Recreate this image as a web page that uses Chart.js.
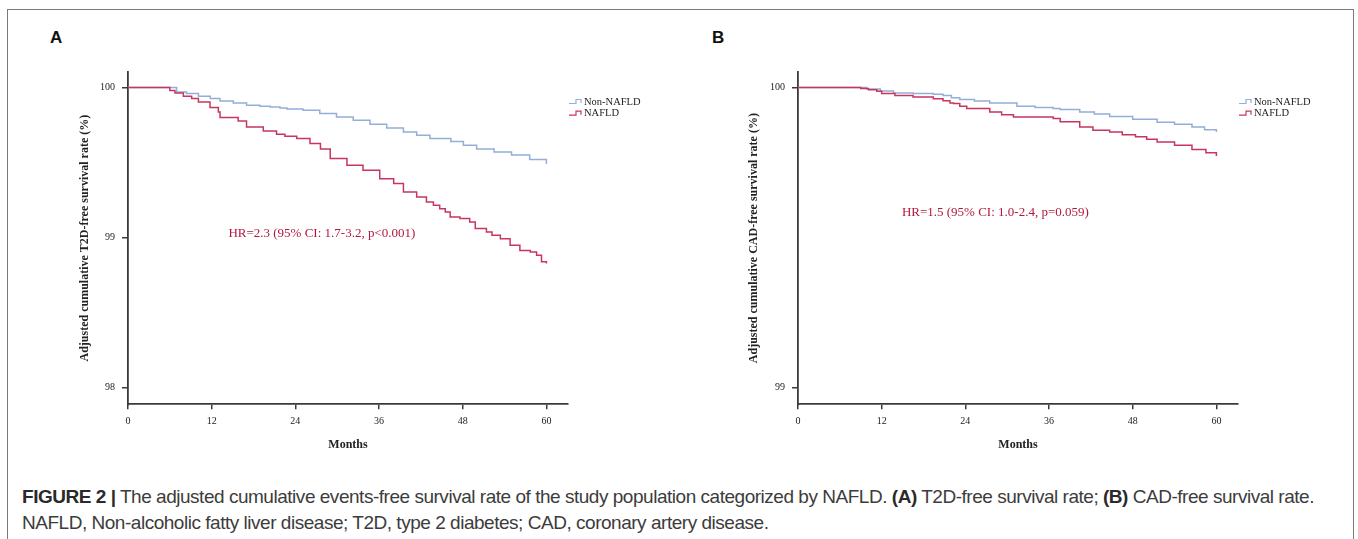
<!DOCTYPE html>
<html><head><meta charset="utf-8">
<script src="https://cdn.jsdelivr.net/npm/chart.js@4.4.0/dist/chart.umd.min.js"></script>
<style>
html,body{margin:0;padding:0;background:#fff;width:1358px;height:539px;overflow:hidden;}
#frame{position:absolute;left:7px;top:9px;width:1347px;height:700px;border:1.5px solid #7a7a7a;box-sizing:border-box;}
.plabel{position:absolute;font:bold 17px "Liberation Sans",Arial,sans-serif;color:#111;line-height:17px;}
canvas{position:absolute;}
#caption{position:absolute;left:22px;top:484px;font:19px "Liberation Sans Narrow","Arial Narrow","Liberation Sans",sans-serif;color:#3c3c3c;line-height:26px;white-space:nowrap;}
#caption b{color:#2a2a2a;}
</style></head>
<body>
<div id="frame"></div>
<div class="plabel" style="left:50px;top:29px">A</div>
<div class="plabel" style="left:712px;top:29px">B</div>
<canvas id="chartA" width="680" height="440" style="left:0px;top:40px"></canvas>
<canvas id="chartB" width="688" height="440" style="left:670px;top:40px"></canvas>
<div id="caption"><div id="cap1"><b>FIGURE 2 |</b> The adjusted cumulative events-free survival rate of the study population categorized by NAFLD. <b>(A)</b> T2D-free survival rate; <b>(B)</b> CAD-free survival rate.</div><div id="cap2">NAFLD, Non-alcoholic fatty liver disease; T2D, type 2 diabetes; CAD, coronary artery disease.</div></div>
<script>
// ---------- data ----------
const seriesNames = ['Non-NAFLD', 'NAFLD'];
const monthTicks = [0, 12, 24, 36, 48, 60];
const yTicksA = [98, 99, 100];
const yTicksB = [99, 100];

// Panel A: T2D-free survival (%)
const t2dNonMonths = [0, 5.9, 6.98, 8.4, 10.1, 11.8, 13.2, 15.1, 17.0, 18.9, 20.4, 21.8, 22.8, 25.1, 27.5, 29.9, 32.3, 34.7, 37.1, 39.5, 41.4, 43.3, 46.3, 48.1, 50.0, 52.5, 55.0, 57.6, 60.0];
const t2dNonRate   = [100, 100, 99.971, 99.960, 99.942, 99.927, 99.911, 99.897, 99.882, 99.875, 99.870, 99.864, 99.858, 99.849, 99.827, 99.804, 99.782, 99.755, 99.731, 99.704, 99.682, 99.660, 99.640, 99.615, 99.590, 99.571, 99.550, 99.520, 99.490];
const t2dNafMonths = [0, 5.9, 6.0, 6.74, 7.94, 9.13, 10.1, 11.76, 12.96, 13.2, 15.8, 17.0, 19.4, 21.3, 22.5, 24.2, 26.1, 27.6, 29.0, 31.4, 33.7, 36.1, 38.1, 39.5, 41.4, 42.8, 43.8, 44.7, 45.5, 46.2, 47.6, 49.0, 49.8, 51.4, 52.2, 53.4, 54.8, 56.2, 57.7, 58.6, 59.3, 60.0];
const t2dNafRate   = [100, 100, 99.980, 99.964, 99.942, 99.927, 99.904, 99.867, 99.837, 99.800, 99.777, 99.737, 99.710, 99.689, 99.675, 99.660, 99.627, 99.590, 99.527, 99.482, 99.449, 99.393, 99.360, 99.304, 99.271, 99.237, 99.215, 99.193, 99.171, 99.137, 99.127, 99.104, 99.060, 99.037, 99.015, 98.993, 98.949, 98.915, 98.904, 98.882, 98.840, 98.827];

// Panel B: CAD-free survival (%)
const cadNonMonths = [0, 7.9, 9.85, 11.8, 13.7, 16.5, 19.4, 20.8, 22.0, 23.2, 25.3, 27.5, 31.4, 34.0, 36.6, 37.6, 40.4, 42.5, 44.7, 48.0, 51.5, 54.0, 56.5, 58.3, 60.0];
const cadNonRate   = [100, 100, 99.995, 99.989, 99.982, 99.980, 99.978, 99.974, 99.966, 99.960, 99.955, 99.949, 99.938, 99.934, 99.930, 99.927, 99.919, 99.912, 99.904, 99.895, 99.885, 99.878, 99.869, 99.860, 99.852];
const cadNafMonths = [0, 7.9, 9.0, 10.1, 11.3, 12.0, 13.9, 16.5, 19.4, 20.8, 21.8, 22.3, 23.2, 24.2, 27.5, 29.2, 30.9, 36.6, 37.6, 40.4, 42.3, 44.7, 46.5, 48.4, 50.0, 51.5, 54.0, 56.5, 58.5, 60.0];
const cadNafRate   = [100, 100, 99.997, 99.993, 99.988, 99.980, 99.974, 99.969, 99.963, 99.956, 99.949, 99.947, 99.938, 99.930, 99.919, 99.910, 99.902, 99.897, 99.886, 99.869, 99.858, 99.852, 99.843, 99.836, 99.828, 99.819, 99.808, 99.794, 99.783, 99.772];

const hrTextA = 'HR=2.3 (95% CI: 1.7-3.2, p<0.001)';
const hrTextB = 'HR=1.5 (95% CI: 1.0-2.4, p=0.059)';
const hrPosA = [27.8, 99.027];
const hrPosB = [28.3, 99.585];

// ---------- style ----------
const BLUE = '#93aed8';
const RED = '#c8365f';
const HRCOL = '#b3173d';
const AXIS = '#3a3a3a';
const SERIF = '"Liberation Serif","Times New Roman",serif';

function pts(xs, ys){ return xs.map((x,i)=>({x:x, y:ys[i]})); }

function overlayPlugin(hrText, hrPos){
  return {
    id: 'overlay',
    afterDatasetsDraw(chart){
      const {ctx, chartArea: ca, scales:{x, y}} = chart;
      ctx.save();
      ctx.font = '13px ' + SERIF;
      ctx.fillStyle = HRCOL;
      ctx.textAlign = 'center';
      ctx.textBaseline = 'middle';
      ctx.fillText(hrText, x.getPixelForValue(hrPos[0]), y.getPixelForValue(hrPos[1]));
      const cols = [BLUE, RED];
      seriesNames.forEach((name, i) => {
        const cy = ca.top + 30 + i * 11.7;
        const x0 = ca.right + 1;
        ctx.strokeStyle = cols[i];
        ctx.lineWidth = 1.2;
        ctx.beginPath();
        ctx.moveTo(x0, cy + 1.5);
        ctx.lineTo(x0 + 7, cy + 1.5);
        ctx.lineTo(x0 + 7, cy - 2.5);
        ctx.lineTo(x0 + 12, cy - 2.5);
        ctx.lineTo(x0 + 12, cy + 1);
        ctx.stroke();
        ctx.font = '10.5px ' + SERIF;
        ctx.fillStyle = '#222';
        ctx.textAlign = 'left';
        ctx.fillText(name, x0 + 15, cy);
      });
      ctx.restore();
    }
  };
}

function makeChart(id, nonPts, nafPts, yMin, yMax, yTicks, yTitle, pad, yWidth, hrText, hrPos){
  return new Chart(document.getElementById(id), {
    type: 'line',
    data: {
      datasets: [
        {label: seriesNames[1], data: nafPts, borderColor: RED, borderWidth: 1.5, stepped: 'before', pointRadius: 0, fill: false},
        {label: seriesNames[0], data: nonPts, borderColor: BLUE, borderWidth: 1.5, stepped: 'before', pointRadius: 0, fill: false}
      ]
    },
    options: {
      responsive: false,
      animation: false,
      events: [],
      layout: {padding: pad},
      plugins: {legend: {display: false}, tooltip: {enabled: false}},
      scales: {
        x: {
          type: 'linear', min: 0, max: 63.1,
          afterBuildTicks(s){ s.ticks = monthTicks.map(v => ({value: v})); },
          afterFit(s){ s.height = 47.9; },
          ticks: {autoSkip: false, maxRotation: 0, padding: 6, color: '#222', font: {family: SERIF, size: 10}},
          grid: {display: true, drawOnChartArea: false, drawTicks: true, tickLength: 5, color: AXIS, lineWidth: 1.5},
          border: {display: true, color: AXIS, width: 1.8},
          title: {display: true, text: 'Months', color: '#222', padding: 0, font: {family: SERIF, size: 12, weight: 'bold'}}
        },
        y: {
          type: 'linear', min: yMin, max: yMax,
          afterBuildTicks(s){ s.ticks = yTicks.map(v => ({value: v})); },
          afterFit(s){ s.width = yWidth; },
          ticks: {autoSkip: false, padding: 7, color: '#222', font: {family: SERIF, size: 10}},
          grid: {display: true, drawOnChartArea: false, drawTicks: true, tickLength: 6, color: AXIS, lineWidth: 1.5},
          border: {display: true, color: AXIS, width: 1.8},
          title: {display: true, text: yTitle, color: '#222', padding: 0, font: {family: SERIF, size: 12, weight: 'bold'}}
        }
      }
    },
    plugins: [overlayPlugin(hrText, hrPos)]
  });
}

makeChart('chartA', pts(t2dNonMonths, t2dNonRate), pts(t2dNafMonths, t2dNafRate), 97.889, 100.104, yTicksA,
  'Adjusted cumulative T2D-free survival rate (%)', {left: 77.4, top: 32, right: 112, bottom: 27.8}, 50.6, hrTextA, hrPosA);
makeChart('chartB', pts(cadNonMonths, cadNonRate), pts(cadNafMonths, cadNafRate), 98.945, 100.052, yTicksB,
  'Adjusted cumulative CAD-free survival rate (%)', {left: 76.8, top: 32, right: 120, bottom: 27.8}, 51.2, hrTextB, hrPosB);

// fit caption width to the reference line length
(function(){
  const c1 = document.getElementById('cap1');
  const cap = document.getElementById('caption');
  const r = document.createRange(); r.selectNodeContents(c1);
  const w = r.getBoundingClientRect().width;
  const n = c1.textContent.length;
  const ls = (1292 - w) / n;
  cap.style.letterSpacing = Math.max(-1.5, Math.min(1.5, ls)).toFixed(3) + 'px';
})();
</script>
</body></html>
